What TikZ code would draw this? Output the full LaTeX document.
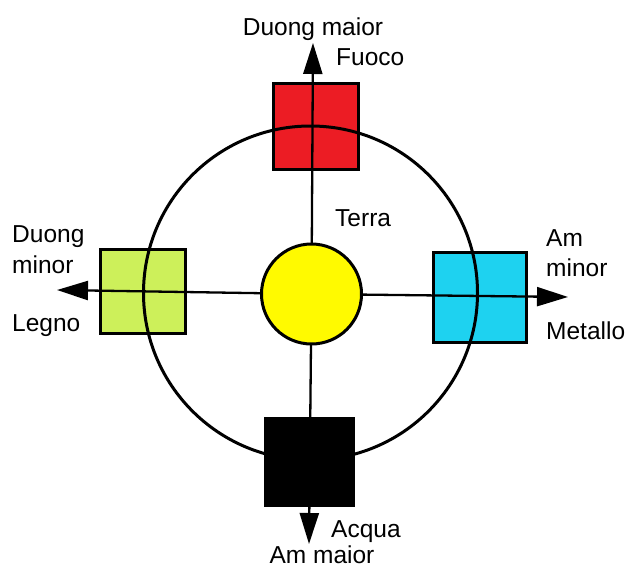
\documentclass[tikz,border=0pt]{standalone}
\usepackage{fontspec}
\setmainfont{Liberation Sans}
\usetikzlibrary{arrows.meta}
\definecolor{fuocored}{RGB}{236,28,36}
\definecolor{legnogreen}{RGB}{205,240,90}
\definecolor{metallocyan}{RGB}{30,210,240}
\definecolor{terrayellow}{RGB}{255,250,0}
\tikzset{
  elem/.style={draw=black, line width=3pt, inner sep=0pt, outer sep=0pt},
  conn/.style={line width=2.3pt, -{Triangle[length=31pt,width=19pt]}},
  lbl/.style={inner sep=0pt, font=\fontsize{24.5}{29}\selectfont},
  ring/.style={line width=3pt}
}
\begin{document}
\begin{tikzpicture}[x=1pt,y=-1pt]
\useasboundingbox (0,0) rectangle (630,568);
% element squares
\node[elem, fill=fuocored, minimum width=85pt, minimum height=86pt] (fuoco) at (315.5,126) {};
\node[elem, fill=legnogreen, minimum width=85pt, minimum height=84pt] (legno) at (142.5,291) {};
\node[elem, fill=metallocyan, minimum width=93pt, minimum height=90pt] (metallo) at (479.5,297) {};
\node[elem, fill=black, minimum width=88pt, minimum height=87pt] (acqua) at (309,461.5) {};
% ring
\draw[ring] (310.5,293) circle[radius=167];
% arrow tips
\coordinate (ntip) at (313,43);
\coordinate (wtip) at (57,290);
\coordinate (etip) at (568,297);
\coordinate (stip) at (309,544);
% centre
\node[elem, circle, fill=terrayellow, minimum size=100pt] (terra) at (311.5,294) {};
\draw[conn] (terra) -- (ntip);
\draw[conn] (terra) -- (wtip);
\draw[conn] (terra) -- (etip);
\draw[conn] (terra) -- (stip);
% labels
\node[lbl, anchor=base] (tdm) at (313,35) {Duong maior};
\node[lbl, anchor=base west] (tfuoco) at (336,65) {Fuoco};
\node[lbl, anchor=base west] (tterra) at (335,226) {Terra};
\node[lbl, anchor=base west] (tdmin1) at (12,242) {Duong};
\node[lbl, anchor=base west] (tdmin2) at (12,273) {minor};
\node[lbl, anchor=base west] (tlegno) at (12,331) {Legno};
\node[lbl, anchor=base west] (tamin1) at (546,246) {Am};
\node[lbl, anchor=base west] (tamin2) at (546,276) {minor};
\node[lbl, anchor=base west] (tmetallo) at (546,339) {Metallo};
\node[lbl, anchor=base west] (tacqua) at (331,537) {Acqua};
\node[lbl, anchor=base] (tammaj) at (322,563) {Am maior};
\end{tikzpicture}
\end{document}
